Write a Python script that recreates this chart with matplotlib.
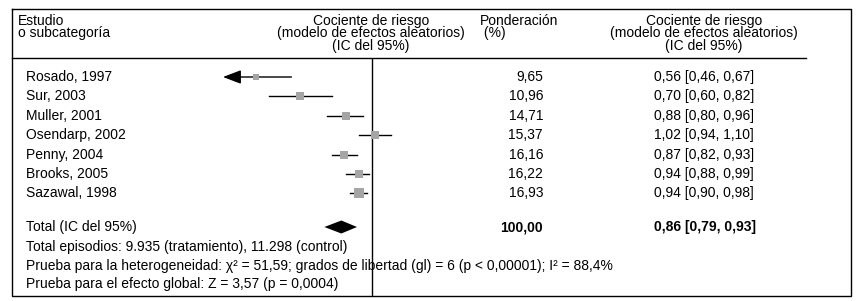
import matplotlib
matplotlib.use("Agg")
import matplotlib.pyplot as plt
import numpy as np

plt.rcParams['font.family'] = ['Liberation Sans', 'DejaVu Sans']
plt.rcParams['font.size'] = 10

# Datos del metaanálisis
estudios = ["Rosado, 1997", "Sur, 2003", "Muller, 2001", "Osendarp, 2002",
            "Penny, 2004", "Brooks, 2005", "Sazawal, 1998"]
ponderacion = [9.65, 10.96, 14.71, 15.37, 16.16, 16.22, 16.93]
rr = [0.56, 0.70, 0.88, 1.02, 0.87, 0.94, 0.94]
ic_inf = [0.46, 0.60, 0.80, 0.94, 0.82, 0.88, 0.90]
ic_sup = [0.67, 0.82, 0.96, 1.10, 0.93, 0.99, 0.98]

total_pond = 100.00
total_rr = 0.86
total_inf = 0.79
total_sup = 0.93

cab_estudio = "Estudio\no subcategoría"
cab_cr = "Cociente de riesgo\n(modelo de efectos aleatorios)\n(IC del 95%)"
cab_pond = "Ponderación\n (%)"

pie = ["Total episodios: 9.935 (tratamiento), 11.298 (control)",
       "Prueba para la heterogeneidad: χ² = 51,59; grados de libertad (gl) = 6 (p < 0,00001); I² = 88,4%",
       "Prueba para el efecto global: Z = 3,57 (p = 0,0004)"]


def fmt(v):
    return f"{v:.2f}".replace(".", ",")


W, H = 863, 301
fig = plt.figure(figsize=(W / 100, H / 100), dpi=100)

# ejes de fondo en píxeles para textos y marco
ax = fig.add_axes([0, 0, 1, 1])
ax.set_xlim(0, W)
ax.set_ylim(H, 0)
ax.axis('off')

# marco y línea de cabecera
ax.plot([12, 851, 851, 12, 12], [9, 9, 296, 296, 9], color='black', lw=1)
ax.plot([12, 806], [58, 58], color='black', lw=1)

# cabeceras (bloques de varias líneas)
ls = 0.85
ax.text(18, 14, cab_estudio, va='top', ha='left', linespacing=ls)
ax.text(371, 14, cab_cr, va='top', ha='center', multialignment='center', linespacing=ls)
ax.text(704, 14, cab_cr, va='top', ha='center', multialignment='center', linespacing=ls)
ax.text(480, 14, cab_pond, va='top', ha='left', multialignment='left', linespacing=ls)

# filas
y_filas = 77 + 19.4 * np.arange(len(estudios))
y_total = 227
for y, est, w, r, lo, hi in zip(y_filas, estudios, ponderacion, rr, ic_inf, ic_sup):
    ax.text(26, y, est, va='center', ha='left')
    ax.text(543, y, fmt(w), va='center', ha='right')
    ax.text(654, y, f"{fmt(r)} [{fmt(lo)}, {fmt(hi)}]", va='center', ha='left')

ax.text(26, y_total, "Total (IC del 95%)", va='center', ha='left')
ax.text(543, y_total, fmt(total_pond), va='center', ha='right', fontweight='bold')
ax.text(654, y_total, f"{fmt(total_rr)} [{fmt(total_inf)}, {fmt(total_sup)}]",
        va='center', ha='left', fontweight='bold')

for yy, t in zip([247, 266, 284], pie):
    ax.text(26, yy, t, va='center', ha='left')

# ejes del gráfico de bosque (escala logarítmica)
k = 200.0  # píxeles por unidad de ln
x1 = 371.5
px0, px1 = 223, 520
fx = fig.add_axes([px0 / W, 0, (px1 - px0) / W, 1])
fx.set_xscale('log')
xmin = np.exp((px0 - x1) / k)
xmax = np.exp((px1 - x1) / k)
fx.set_xlim(xmin, xmax)
fx.set_ylim(H, 0)
fx.axis('off')
fx.patch.set_alpha(0)

fx.vlines(1, 58, 296, color='black', lw=1)

for y, w, r, lo, hi in zip(y_filas, ponderacion, rr, ic_inf, ic_sup):
    if lo < xmin:
        fx.annotate('', xy=(xmin, y), xytext=(hi, y),
                    arrowprops=dict(arrowstyle='-|>,head_length=1.1,head_width=0.42',
                                    color='black', lw=1, shrinkA=0, shrinkB=0))
    else:
        fx.plot([lo, hi], [y, y], color='black', lw=1)
    fx.plot(r, y, marker='s', markersize=1.6 * np.sqrt(w), color='#a5a5a5',
            markeredgewidth=0, zorder=3)

dh = 6.5
fx.fill([total_inf, total_rr, total_sup, total_rr],
        [y_total, y_total - dh, y_total, y_total + dh], color='black', lw=0)

fig.savefig("out.png", dpi=100)
